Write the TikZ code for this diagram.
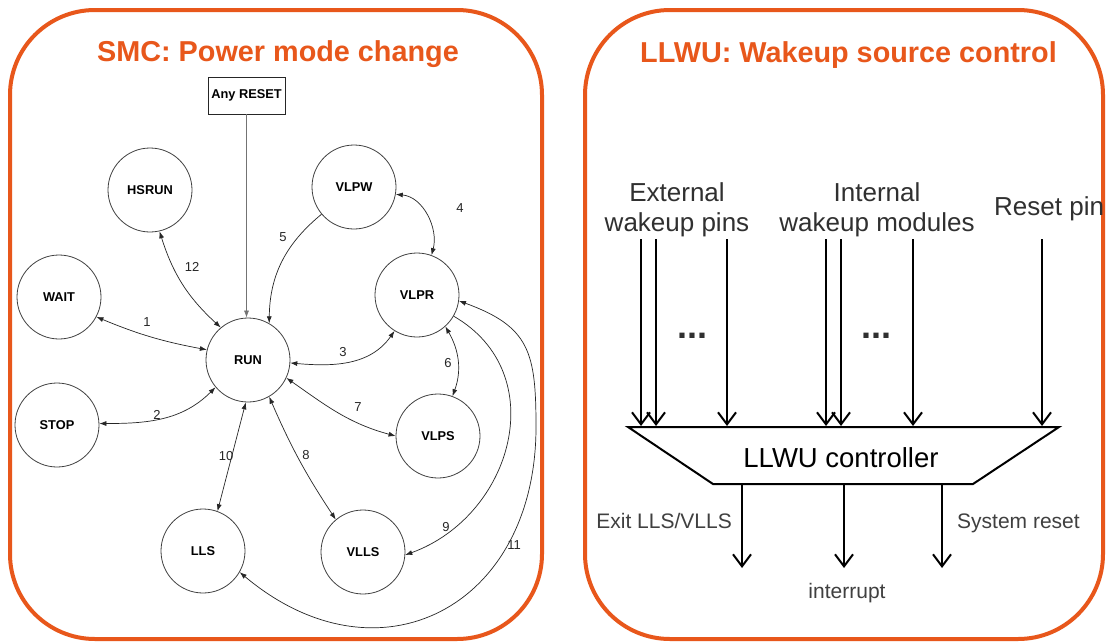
\documentclass[tikz,border=0pt]{standalone}
\usepackage{fontspec}
\setmainfont{Liberation Sans}
\usetikzlibrary{arrows.meta,calc}
\definecolor{nxporange}{HTML}{E8571B}
\definecolor{txtgray}{HTML}{303030}
\definecolor{lblgray}{HTML}{404040}
\tikzset{
  x=1pt,y=1pt,
  panel/.style={draw=nxporange,line width=4pt,rounded corners=85pt},
  ptitle/.style={text=nxporange,font=\fontsize{28.8}{31}\selectfont\bfseries,anchor=base,inner sep=0pt},
  state/.style={circle,draw=black!75,line width=0.8pt,minimum size=84pt,inner sep=0pt,font=\fontsize{12.8}{14}\selectfont\bfseries},
  resetbox/.style={draw=black!85,line width=0.9pt,minimum width=77pt,minimum height=37pt,inner sep=1pt,font=\fontsize{12.8}{14}\selectfont\bfseries},
  tr/.style={draw=black!85,line width=0.7pt},
  bi/.style={tr,{Latex[length=7pt,width=5pt]}-{Latex[length=7pt,width=5pt]}},
  uni/.style={tr,-{Latex[length=7pt,width=5pt]}},
  num/.style={font=\fontsize{13}{14}\selectfont,text=black!85,inner sep=0pt},
  wire/.style={draw=black,line width=2pt,-{Straight Barb[length=12pt,width=18pt,line width=2pt]}},
  toplbl/.style={font=\fontsize{26}{30}\selectfont,text=txtgray,inner sep=0pt,align=center},
  outlbl/.style={font=\fontsize{21}{24}\selectfont,text=lblgray,inner sep=0pt},
  dots/.style={font=\fontsize{36}{36}\selectfont\bfseries,text=txtgray,inner sep=0pt}
}
\begin{document}
\begin{tikzpicture}
\useasboundingbox (0,0) rectangle (1108,-643);
\fill[white] (0,0) rectangle (1108,-643);
% panels
\draw[panel] (10,-10) rectangle (542,-639);
\draw[panel] (585,-10) rectangle (1103,-639);
\node[ptitle] (t1) at (278,-61) {SMC: Power mode change};
\node[ptitle] (t2) at (848.5,-62) {LLWU: Wakeup source control};

% ---------- SMC state diagram ----------
\node[resetbox] (reset) at (246.5,-95.5) {Any RESET};
\node[state] (hsrun) at (150,-190) {HSRUN};
\node[state] (vlpw) at (354,-187) {VLPW};
\node[state] (wait) at (59,-297) {WAIT};
\node[state] (vlpr) at (417,-295) {VLPR};
\node[state] (run) at (248,-360) {RUN};
\node[state] (stop) at (57,-425) {STOP};
\node[state] (vlps) at (438,-436) {VLPS};
\node[state] (lls) at (203,-551) {LLS};
\node[state] (vlls) at (363,-552) {VLLS};
\coordinate (c11) at (536,-427);

\draw[tr,draw=black!55,-{Latex[length=7pt,width=5pt]}] (reset.south) -- (reset.south |- run.north);
\draw[bi] (wait.-28) to[bend right=6] (run.166);
\draw[bi] (hsrun.-77) to[bend right=15] (run.130);
\draw[uni] (vlpw.220) to[bend right=25] (run.60);
\draw[bi] (vlpw.-10) to[out=-5,in=75] (vlpr.70);
\draw[bi] (run.-4) to[out=-5,in=235] (vlpr.238);
\draw[bi] (stop.2) to[out=0,in=225] (run.220);
\draw[bi] (run.-25) to[out=-35,in=165] (vlps.180);
\draw[bi] (vlpr.-48) to[out=-60,in=70] (vlps.70);
\draw[bi] (run.-93) -- (lls.70);
\draw[bi] (run.-60) to[bend right=5] (vlls.130);
\draw[uni] (vlpr.-30) to[out=-30,in=20,looseness=1.2] (vlls.-4);
\draw[bi] (lls.-30) to[out=-40,in=-90,looseness=1.4] (c11) to[out=90,in=-20,looseness=1.3] (vlpr.-8);

\node[num] (n1) at (147,-322) {1};
\node[num] (n2) at (157,-415) {2};
\node[num] (n3) at (343,-352) {3};
\node[num] (n4) at (460,-208) {4};
\node[num] (n5) at (283,-237) {5};
\node[num] (n6) at (448,-363) {6};
\node[num] (n7) at (358,-407) {7};
\node[num] (n8) at (306,-455) {8};
\node[num] (n9) at (446,-527) {9};
\node[num] (n10) at (226,-456) {10};
\node[num] (n11) at (514,-545) {11};
\node[num] (n12) at (192,-267) {12};

% ---------- LLWU ----------
\node[toplbl,anchor=base] (ext) at (677,-231) {External\\wakeup pins};
\node[toplbl,anchor=base] (int) at (877,-231) {Internal\\wakeup modules};
\node[toplbl,anchor=base west] (rst) at (994,-215) {Reset pin};
\node[dots] (d1) at (692,-336) {...};
\node[dots] (d2) at (876,-336) {...};

\draw[line width=2pt,line join=miter] (628,-427) -- (1059,-427) -- (973,-484) -- (713,-484) -- cycle;
\node[font=\fontsize{27.5}{30}\selectfont,inner sep=0pt,anchor=base] (ctrl) at (841,-467) {LLWU controller};

\foreach \xx in {641,656,727,826,841,913,1042}{
  \draw[wire] (\xx,-239) -- (\xx,-426);
}
\foreach \xx in {742,844,942}{
  \draw[wire] (\xx,-485) -- (\xx,-568);
}
\node[outlbl,anchor=base east] (exit) at (732,-528) {Exit LLS/VLLS};
\node[outlbl,anchor=base west] (sys) at (957,-528) {System reset};
\node[outlbl,anchor=base] (irq) at (847,-598) {interrupt};
\end{tikzpicture}
\end{document}
